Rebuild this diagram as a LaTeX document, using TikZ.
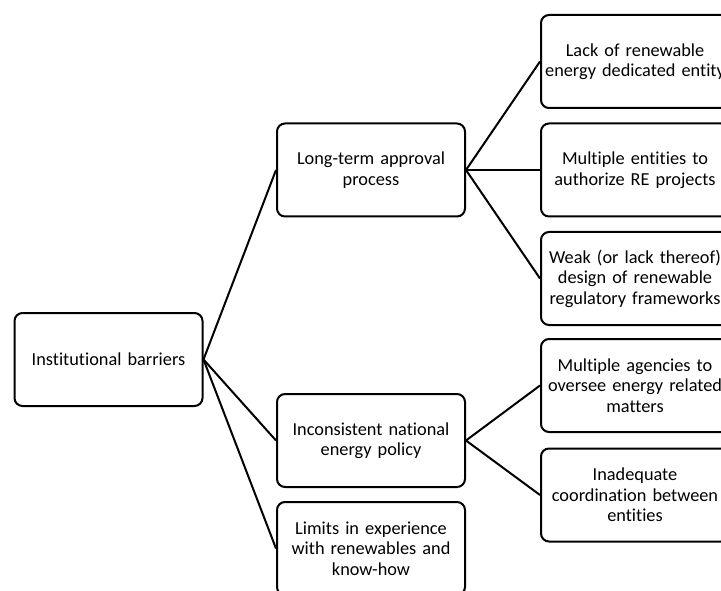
\documentclass[tikz,border=0pt]{standalone}
\usepackage{fontspec}
\setmainfont{Carlito}[Ligatures={NoCommon}]
\begin{document}
\begin{tikzpicture}[x=1pt,y=-1pt,
  box/.style={draw, line width=2pt, rounded corners=8pt, minimum width=188pt, minimum height=93pt, text width=186pt, align=center, inner sep=0pt, font=\fontsize{18.3}{20.5}\selectfont},
  link/.style={line width=2pt}]
\useasboundingbox (0,0) rectangle (721,591);
\begin{scope}
\clip (0,0) rectangle (721,591);
\node[box] (root) at (108.5,359.5) {Institutional barriers};
\node[box] (lt) at (371,170) {Long-term approval\\process};
\node[box] (inc) at (371,440.5) {Inconsistent national\\energy policy};
\node[box] (lim) at (371,548.5) {Limits in experience\\with renewables and\\know-how};
\node[box] (lack) at (635,61.5) {Lack of renewable\\energy dedicated entity};
\node[box] (mult) at (635,170) {Multiple entities to\\authorize RE projects};
\node[box] (weak) at (635,278.5) {Weak (or lack thereof)\\design of renewable\\regulatory frameworks};
\node[box] (agen) at (635,385.5) {Multiple agencies to\\oversee energy related\\matters};
\node[box] (inad) at (635,495) {Inadequate\\coordination between\\entities};
\draw[link] (root.east) -- (lt.west);
\draw[link] (root.east) -- (inc.west);
\draw[link] (root.east) -- (lim.west);
\draw[link] (lt.east) -- (lack.west);
\draw[link] (lt.east) -- (mult.west);
\draw[link] (lt.east) -- (weak.west);
\draw[link] (inc.east) -- (agen.west);
\draw[link] (inc.east) -- (inad.west);
\end{scope}
\end{tikzpicture}
\end{document}
